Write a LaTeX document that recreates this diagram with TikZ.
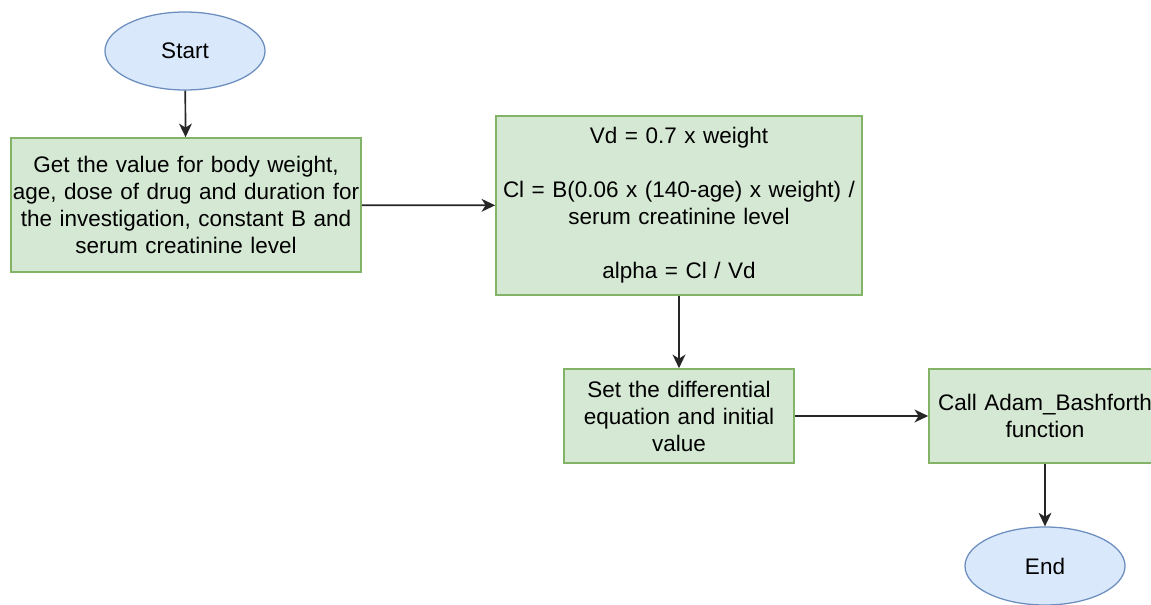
\documentclass[tikz,border=0pt]{standalone}
\usepackage{fontspec}
\setmainfont{Liberation Sans}
\usepackage{xcolor}
\usetikzlibrary{positioning}
\usetikzlibrary{shapes.geometric}
\usetikzlibrary{arrows.meta}
\definecolor{procfill}{HTML}{D5E8D4}
\definecolor{procline}{HTML}{82B366}
\definecolor{termfill}{HTML}{DAE8FC}
\definecolor{termline}{HTML}{6C8EBF}
\tikzset{
  % Start / End terminals
  terminal/.style={
    ellipse, draw=termline, fill=termfill, line width=0.9pt,
    minimum width=4cm, minimum height=1.95cm, inner sep=0pt},
  % A process box, width given
  process/.style={
    draw=procline, fill=procfill, line width=1.1pt, align=center,
    inner sep=0pt, text width=#1, minimum width=#1},
  % Flow arrows
  flow/.style={-{Stealth[length=3.4mm, width=3.2mm, inset=1mm]},
    draw=black!85, line width=1.2pt},
}

\begin{document}
\begin{tikzpicture}[x=0.025cm, y=-0.025cm,
  font=\fontsize{16}{19.2}\selectfont]

  \useasboundingbox[fill=white] (0,0) rectangle (1151,605);

  \node[terminal] (start) at (185,51) {Start};

  \node[process=8.75cm, minimum height=3.35cm] (input) at (186,205)
    {Get the value for body weight,\\
     age, dose of drug and duration for\\
     the investigation, constant B and\\
     serum creatinine level};

  \node[process=9.15cm, minimum height=4.475cm] (params) at (679,205.5)
    {Vd = 0.7 x weight\\[19.2pt]
     Cl = B(0.06 x (140-age) x weight) /\\
     serum creatinine level\\[19.2pt]
     alpha = Cl / Vd};

  \node[process=5.75cm, minimum height=2.35cm] (ode) at (679,416)
    {Set the differential\\
     equation and initial\\
     value};

  \node[process=5.8cm, minimum height=2.35cm] (solver) at (1045,416)
    {Call Adam\_Bashforth\\
     function};

  \node[terminal] (end) at (1045,566) {End};

  \draw[flow] (start) -- (input);
  \draw[flow] (input) -- (params);
  \draw[flow] (params) -- (ode);
  \draw[flow] (ode) -- (solver);
  \draw[flow] (solver) -- (end);

\end{tikzpicture}
\end{document}
